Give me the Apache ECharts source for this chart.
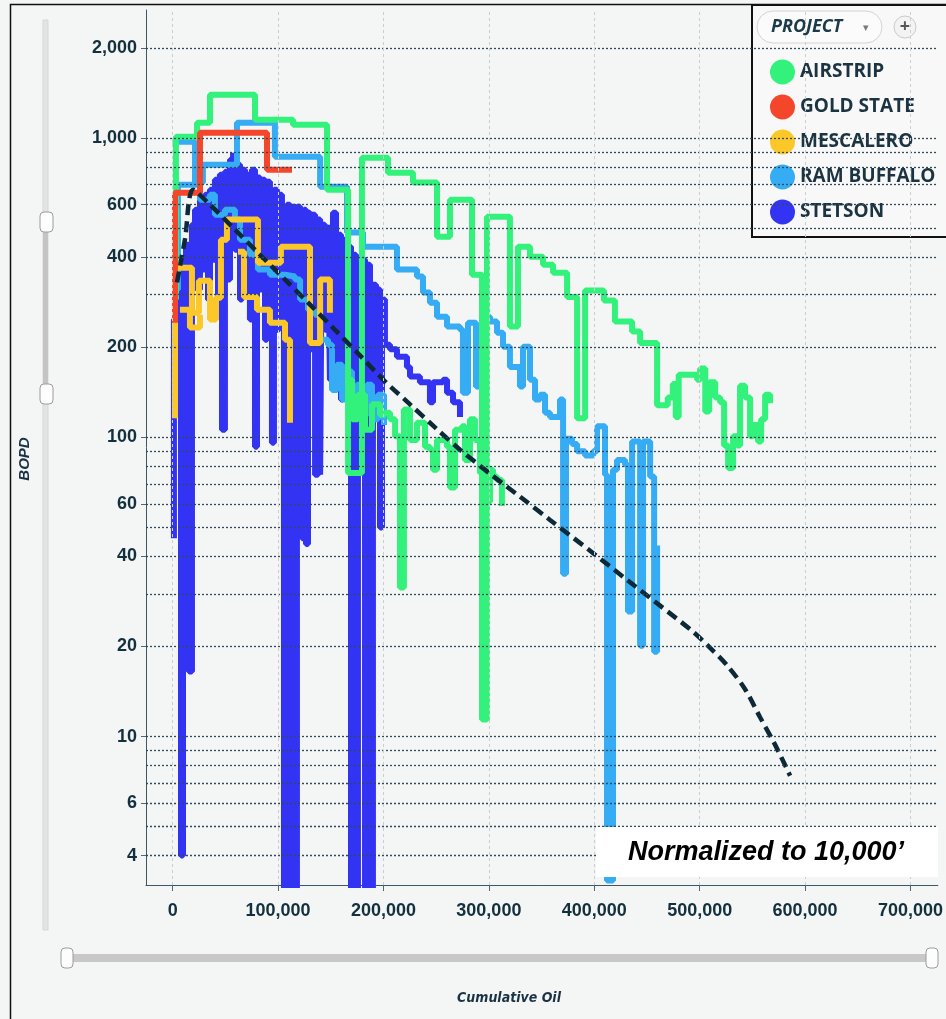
<!DOCTYPE html>
<html><head><meta charset="utf-8">
<script src="https://cdn.jsdelivr.net/npm/echarts@6.0.0/dist/echarts.min.js"></script>
<style>html,body{margin:0;padding:0;background:#f4f5f5;}#chart{width:946px;height:1019px;}</style>
</head><body><div id="chart"></div>
<script>
// ---- tick / grid values ----
const yTickValues = [4, 6, 10, 20, 40, 60, 100, 200, 400, 600, 1000, 2000];
const yGridValues = [4, 5, 6, 7, 8, 9, 10, 20, 30, 40, 50, 60, 70, 80, 90, 100, 200, 300, 400, 500, 600, 700, 800, 900, 1000, 2000];
const xTickValues = [0, 100000, 200000, 300000, 400000, 500000, 600000, 700000];
const projectNames = ['AIRSTRIP', 'GOLD STATE', 'MESCALERO', 'RAM BUFFALO', 'STETSON'];

// ---- data: [cumulative oil, BOPD] ----
const airstripWell1 = [[3100,289],[3100,1012],[23100,1012],[23100,1127],[35400,1127],[35400,1399],[78100,1399],[78100,1154],[114200,1154],[114200,1110],[146400,1110],[146400,673],[166400,673],[166400,76],[179600,76],[179600,861],[204300,861],[204300,767],[228000,767],[228000,711],[250800,711],[250800,469],[263100,469],[263100,623],[284000,623],[284000,350],[293500,350],[293500,11.4],[298200,11.4],[298200,547],[320000,547],[320000,235],[327600,235],[327600,434],[339000,434],[339000,402],[351400,402],[351400,378],[360900,378],[360900,355],[374200,355],[374200,295],[383700,295],[383700,116],[391300,116],[391300,310],[409200,310],[409200,287],[419600,287],[419600,244],[435900,244],[435900,226],[443500,226],[443500,207],[459600,207],[459600,128],[469700,136],[474500,151],[477300,117],[480100,162],[497600,156],[500500,170],[505300,122],[509000,153],[514700,136],[519400,131],[523200,94],[527000,79],[531700,101],[535500,94],[538300,149],[543100,136],[547800,101],[550700,110],[555400,97],[558300,115],[562100,139],[566800,130]];
const airstripWell2 = [[163500,156],[170300,115],[175800,139],[182500,106],[189100,129],[196700,119],[201400,121],[206200,115],[211000,101],[215700,31.5],[219400,124],[225200,98],[231800,112],[239400,93],[244100,91],[247000,78],[250800,98],[260300,93],[263100,68],[267900,106],[274500,109],[277300,84],[282100,115],[286800,98],[291600,76],[298200,61],[301100,78],[303900,74],[307700,72],[312400,59]];
const goldStateWell1 = [[2200,242],[2200,658],[25900,658],[25900,1044],[89500,1044],[89500,785],[113200,785]];
const mescaleroWell1 = [[2200,116],[2200,369],[18300,369],[18300,261],[24900,261],[24900,334],[35400,334],[35400,248],[41100,248],[41100,293],[45800,293],[45800,458],[51500,458],[51500,535],[80900,535],[80900,384],[102700,384],[102700,434],[130300,434],[130300,207],[139900,207],[139900,337],[149200,337],[149200,261]];
const mescaleroWell2 = [[62000,418],[67700,418],[67700,295],[80000,295],[80000,267],[92300,267],[92300,242],[106600,242],[106600,212],[111300,212],[111300,112]];
const mescaleroWell3 = [[6900,267],[16400,267],[16400,233],[25900,233],[25900,257]];
const ramBuffaloWell1 = [[0,974],[21200,974],[21200,711],[28700,711],[28700,816],[61000,816],[61000,1127],[97000,1127],[97000,868],[139900,868],[139900,689],[165400,689],[165400,484],[180600,484],[180600,434],[212800,434],[212800,364],[231800,364],[231800,345],[237500,345],[237500,305],[244100,305],[244100,282],[250800,282],[250800,253],[260300,253],[260300,235],[269800,235],[272600,229],[275400,229],[275400,141],[280200,141],[280200,242],[287800,242],[287800,148],[292500,148],[294500,253],[301100,244],[307700,224],[313400,201],[318100,201],[320000,172],[326700,172],[329500,148],[332400,201],[336200,201],[339000,156],[343800,134],[348500,139],[353300,121],[358000,117],[364700,117],[367500,134],[370400,134],[370400,35],[373200,35],[373200,99],[378900,95],[383700,90],[391300,87],[398900,90],[402600,109],[407400,109],[410200,75],[412100,75],[412100,3.3],[417800,3.3],[417800,78],[421600,84],[429200,81],[432000,78],[432000,26.2],[435900,26.2],[435900,97],[443500,97],[443500,20.1],[446300,20.1],[446300,97],[451100,97],[453000,74],[456800,74],[456800,19.2],[459600,19.2],[459600,43.5]];
const ramBuffaloWell2 = [[3100,312],[5000,700],[21200,700],[25900,623],[35400,648],[40100,555],[49600,577],[59100,535],[63900,458],[73300,408],[80900,364],[92300,350],[106600,345],[116000,337],[120900,289],[128400,267],[135100,257],[139900,212],[147400,204],[151200,144],[155900,175],[160700,134],[165400,166],[170100,139],[174800,150],[179600,119],[184300,150],[189100,115],[194800,139],[200500,110]];
const stetsonWell1 = [[1200,46],[1200,248],[4100,289],[6000,337],[7900,4.0],[9800,393],[12600,441],[15500,16.5],[18300,514],[21200,577],[23100,312],[25900,623],[28700,364],[30600,648],[33500,289],[35400,673],[38200,393],[40100,727],[43000,248],[44800,756],[46800,106],[49600,773],[52500,337],[54400,848],[57300,895],[59100,424],[61000,816],[63900,289],[65800,785],[68600,393],[70500,756],[73300,248],[75200,785],[78100,93],[80000,739],[82800,312],[84700,727],[87600,212],[89500,716],[92300,337],[94200,96],[96100,673],[98900,229],[100800,648],[103700,289],[105600,3],[108400,600],[111300,3],[113200,591],[116000,3],[117900,591],[120900,248],[122700,46],[124600,577],[126500,44],[128400,564],[130300,197],[132200,555],[135100,75],[137900,535],[139900,75],[141600,514],[144500,229],[147400,514],[149200,156],[152100,564],[155000,182],[156900,476],[159700,134],[161600,458],[164400,197],[166400,434],[169200,3],[171100,408],[173900,3],[175800,378],[178700,156],[180600,393],[182500,3],[185300,378],[187200,3],[190000,324],[192900,134],[194800,312],[196700,50],[198600,289],[201400,204],[206200,197],[212800,186],[222300,172],[225200,160],[234600,153],[242200,153],[244100,131],[247000,153],[256500,156],[260300,141],[266000,131],[272600,117]];
const typeCurve = [[4100,330],[11700,460],[19300,673],[35400,600],[59100,495],[82800,408],[106600,337],[130300,278],[154000,229],[177700,188],[201400,154],[225200,129],[248900,108],[272600,91],[301100,75.6],[329500,63.4],[358000,53],[396000,41.8],[431100,33.4],[462400,27.4],[493800,22.4],[509900,19.8],[526000,17.3],[543100,14.4],[557300,11.6],[571500,9.4],[585800,7.4]];

// ---- styling ----
const colors = {'AIRSTRIP':'#33f27c','GOLD STATE':'#f4462a','MESCALERO':'#fcc829','RAM BUFFALO':'#35acf4','STETSON':'#3333f4'};
const drawOrder = [
  ['STETSON', [stetsonWell1]],
  ['RAM BUFFALO', [ramBuffaloWell1, ramBuffaloWell2]],
  ['AIRSTRIP', [airstripWell1, airstripWell2]],
  ['MESCALERO', [mescaleroWell1, mescaleroWell2, mescaleroWell3]],
  ['GOLD STATE', [goldStateWell1]]
];
const sans = '"Liberation Sans",Arial,sans-serif';
const fmt = v => Math.round(v).toLocaleString('en-US');
const labelStyle = {fontSize:18, fontWeight:'bold', fontFamily:sans, color:'#12303e'};

const series = [];
series.push({
  type:'line', name:'grid', data:[], z:1, silent:true,
  markLine:{silent:true, symbol:['none','none'], animation:false, label:{show:false},
    lineStyle:{color:'#2e4b59', width:1.3, type:[2,2]},
    data: yGridValues.map(v => ({yAxis:v}))}
});
series.push({
  type:'line', name:'vgrid', data:[], z:1, silent:true,
  markLine:{silent:true, symbol:['none','none'], animation:false, label:{show:false},
    lineStyle:{color:'#c9ced1', width:1, type:[3,3]},
    data: xTickValues.map(v => ({xAxis:v}))}
});
drawOrder.forEach(([name, wells]) => {
  wells.forEach(w => series.push({
    type:'line', name:name, data:w, step:'end', showSymbol:false, symbol:'none',
    lineStyle:{width:6, color:colors[name]}, itemStyle:{color:colors[name]},
    emphasis:{disabled:true}, z:2
  }));
});
series.push({
  type:'line', name:'Type Curve', data:typeCurve, smooth:0.3, showSymbol:false, symbol:'none',
  lineStyle:{width:4.5, color:'#0d2937', type:[11,6]}, emphasis:{disabled:true}, z:3
});

const option = {
  backgroundColor:'#f4f5f5',
  animation:false,
  grid:{left:146, right:8, top:10, bottom:134, containLabel:false},
  xAxis:{
    type:'value', min:-25300, max:726000,
    axisLine:{show:true, onZero:false, lineStyle:{color:'#3d5766', width:1}},
    axisTick:{show:true, customValues:xTickValues, length:6, lineStyle:{color:'#4f6877'}},
    axisLabel:Object.assign({customValues:xTickValues, formatter:fmt, margin:17}, labelStyle),
    splitLine:{show:false}
  },
  yAxis:{
    type:'log', logBase:10, min:3.19, max:2685,
    axisLine:{show:true, onZero:false, lineStyle:{color:'#3d5766', width:1}},
    axisTick:{show:true, customValues:yTickValues, length:5, lineStyle:{color:'#4f6877'}},
    axisLabel:Object.assign({customValues:yTickValues, formatter:fmt, margin:9}, labelStyle),
    splitLine:{show:false}, minorTick:{show:false}, minorSplitLine:{show:false}
  },
  legend:{
    data:projectNames, orient:'vertical', left:770, top:59.5, padding:0,
    itemGap:10, itemWidth:25, itemHeight:25, icon:'circle', selectedMode:false,
    textStyle:{fontFamily:'"Open Sans","Noto Sans",sans-serif', fontWeight:'bold', fontSize:19, color:'#1c3441'}
  },
  graphic:{elements:[
    {type:'rect', silent:true, z:0, shape:{x:10.5, y:4.5, width:1000, height:1100}, style:{fill:'none', stroke:'#111', lineWidth:1.5}},
    // vertical slider
    {type:'rect', silent:true, z:0, shape:{x:43, y:20, width:5, height:910}, style:{fill:'#e3e4e4', stroke:'#d6d7d7', lineWidth:1}},
    {type:'rect', silent:true, z:0, shape:{x:43, y:222, width:5, height:172}, style:{fill:'#c4c4c4'}},
    {type:'rect', silent:true, z:0, shape:{x:40, y:212, width:13, height:20, r:4}, style:{fill:'#fdfdfd', stroke:'#9c9c9c', lineWidth:1}},
    {type:'rect', silent:true, z:0, shape:{x:40, y:384, width:13, height:20, r:4}, style:{fill:'#fdfdfd', stroke:'#9c9c9c', lineWidth:1}},
    // horizontal slider
    {type:'rect', silent:true, z:0, shape:{x:67, y:954, width:866, height:8}, style:{fill:'#c8c8c8'}},
    {type:'rect', silent:true, z:0, shape:{x:61, y:948, width:12, height:20, r:4}, style:{fill:'#fdfdfd', stroke:'#9c9c9c', lineWidth:1}},
    {type:'rect', silent:true, z:0, shape:{x:926, y:948, width:12, height:20, r:4}, style:{fill:'#fdfdfd', stroke:'#9c9c9c', lineWidth:1}},
    // axis names
    {type:'text', silent:true, z:0, x:25, y:459, rotation:Math.PI/2, style:{text:'BOPD', fontSize:15, fontWeight:'bold', fontStyle:'italic', fontFamily:sans, fill:'#1a3344', align:'center', verticalAlign:'middle'}},
    {type:'text', silent:true, z:0, x:509, y:998, style:{text:'Cumulative Oil', fontSize:14, fontWeight:'bold', fontStyle:'italic', fontFamily:'"DejaVu Sans Condensed",sans-serif', fill:'#1a3344', align:'center', verticalAlign:'middle'}},
    // legend box
    {type:'rect', silent:true, z:3, shape:{x:752, y:5, width:200, height:232}, style:{fill:'#f8f8f8', stroke:'#111', lineWidth:2}},
    {type:'rect', silent:true, z:5, shape:{x:757, y:11, width:125, height:32, r:16}, style:{fill:'#fbfbfb', stroke:'#d4d4d4', lineWidth:1}},
    {type:'text', silent:true, z:5, x:771, y:27, style:{text:'PROJECT', fontSize:18, fontWeight:'bold', fontStyle:'italic', fontFamily:'"Open Sans","Noto Sans",sans-serif', fill:'#1b3a4a', align:'left', verticalAlign:'middle'}},
    {type:'text', silent:true, z:5, x:866, y:28, style:{text:'\u25BE', fontSize:11, fill:'#7a7a7a', align:'center', verticalAlign:'middle'}},
    {type:'circle', silent:true, z:5, shape:{cx:905, cy:27, r:11}, style:{fill:'#f3f3f3', stroke:'#cacaca', lineWidth:1}},
    {type:'text', silent:true, z:5, x:905, y:27, style:{text:'+', fontSize:18, fontWeight:'bold', fontFamily:'"Open Sans",sans-serif', fill:'#555', align:'center', verticalAlign:'middle'}},
    // annotation
    {type:'rect', silent:true, z:10, shape:{x:596, y:827, width:342, height:50}, style:{fill:'#ffffff'}},
    {type:'text', silent:true, z:11, x:766, y:853, style:{text:'Normalized to 10,000\u2019', fontSize:27, fontWeight:'bold', fontStyle:'italic', fontFamily:sans, fill:'#000', align:'center', verticalAlign:'middle'}}
  ]},
  series:series
};
const chart = echarts.init(document.getElementById('chart'), null, {renderer:'canvas'});
chart.setOption(option);
</script></body></html>
